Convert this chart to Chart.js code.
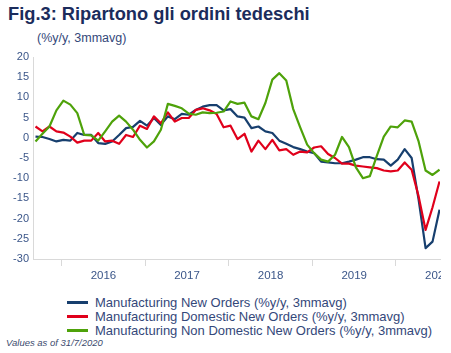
<!DOCTYPE html>
<html>
<head>
<meta charset="utf-8">
<script src="https://cdn.jsdelivr.net/npm/chart.js@4.4.1/dist/chart.umd.min.js"></script>
<style>
html,body{margin:0;padding:0;background:#fff;}
body{width:451px;height:353px;position:relative;overflow:hidden;font-family:"Liberation Sans",Arial,sans-serif;}
#title{position:absolute;left:8px;top:5.2px;font:bold 18.3px/18.3px "Liberation Sans",Arial,sans-serif;color:#1b2c5c;white-space:nowrap;}
#subtitle{position:absolute;left:37px;top:31.1px;font:12.5px/14px "Liberation Sans",Arial,sans-serif;color:#34487a;white-space:nowrap;}
#wrap{position:absolute;left:0;top:0;width:441px;height:290px;}
#legend{position:absolute;left:66.7px;top:295.7px;}
.row{display:flex;align-items:center;height:14px;}
.sw{width:21.6px;height:2.5px;margin-right:6.7px;flex:none;}
.lt{font:13px/14px "Liberation Sans",Arial,sans-serif;color:#34487a;white-space:nowrap;}
#note{position:absolute;left:6px;top:336.8px;font:italic 9.5px/12px "Liberation Sans",Arial,sans-serif;color:#3c4b6e;white-space:nowrap;}
</style>
</head>
<body>
<div id="title">Fig.3: Ripartono gli ordini tedeschi</div>
<div id="subtitle">(%y/y, 3mmavg)</div>
<div id="wrap"><canvas id="c" width="441" height="290" style="width:441px;height:290px"></canvas></div>
<div id="legend"></div>
<div id="note">Values as of 31/7/2020</div>
<script>
// Monthly observations, Sep 2015 .. Jul 2020
const months = [
 '2015-09','2015-10','2015-11','2015-12',
 '2016-01','2016-02','2016-03','2016-04','2016-05','2016-06','2016-07','2016-08','2016-09','2016-10','2016-11','2016-12',
 '2017-01','2017-02','2017-03','2017-04','2017-05','2017-06','2017-07','2017-08','2017-09','2017-10','2017-11','2017-12',
 '2018-01','2018-02','2018-03','2018-04','2018-05','2018-06','2018-07','2018-08','2018-09','2018-10','2018-11','2018-12',
 '2019-01','2019-02','2019-03','2019-04','2019-05','2019-06','2019-07','2019-08','2019-09','2019-10','2019-11','2019-12',
 '2020-01','2020-02','2020-03','2020-04','2020-05','2020-06','2020-07'
];
const newOrders = [0.3,0.2,-0.3,-0.9,-0.5,-0.7,1.2,0.7,0.7,-1.3,
 -1.5,-0.9,0.7,2.4,2.7,4.2,3.0,4.9,3.2,5.3,
 4.6,5.9,5.7,6.9,7.7,8.1,8.1,6.8,7.1,5.3,
 5.0,2.4,2.8,1.6,1.2,-0.7,-1.5,-2.3,-2.8,-3.4,
 -3.8,-5.9,-6.1,-6.3,-6.3,-5.9,-5.4,-4.8,-4.8,-5.3,
 -5.4,-6.9,-5.4,-2.8,-5.0,-15.3,-27.3,-25.7,-17.8];
const domesticOrders = [2.8,1.6,2.8,1.6,1.3,0.3,-1.2,-0.7,-0.7,1.2,
 -0.9,-0.7,-1.5,0.7,0.2,3.0,2.2,5.3,3.6,6.3,
 4.0,4.9,4.9,6.9,7.3,6.8,5.9,2.6,3.0,-0.3,
 1.0,-3.4,-0.7,-2.8,-0.5,-3.1,-2.8,-4.2,-3.4,-3.6,
 -2.4,-2.1,-4.0,-5.0,-6.4,-6.4,-6.9,-7.1,-7.3,-7.5,
 -8.1,-8.3,-8.1,-6.1,-7.9,-14.5,-22.8,-17.2,-10.8];
const nonDomesticOrders = [-0.9,1.0,2.8,6.8,9.2,8.2,6.1,0.7,0.6,-0.7,
 1.6,4.0,5.5,4.0,2.0,-0.5,-2.4,-0.9,2.0,8.4,
 7.9,7.3,6.0,5.7,6.3,6.1,6.2,6.5,9.0,8.4,
 8.7,5.3,4.6,8.6,14.4,16.0,14.2,7.1,2.6,-1.7,
 -3.8,-5.4,-5.9,-4.2,0.2,-2.3,-7.3,-10.0,-9.5,-4.5,
 0.3,2.8,2.6,4.3,4.0,-0.9,-8.1,-9.2,-7.9];
const yearLabels = ['2016','2017','2018','2019','2020'];
const seriesNames = [
 'Manufacturing New Orders (%y/y, 3mmavg)',
 'Manufacturing Domestic New Orders (%y/y, 3mmavg)',
 'Manufacturing Non Domestic New Orders (%y/y, 3mmavg)'
];
const seriesColors = ['#173f6e','#e0001b','#4ea20a'];

// year boundaries (just before each January) and mid-year label positions, in month-index units
const firstJan = months.indexOf('2016-01');
const yearTickPos = yearLabels.map((_, k) => firstJan - 0.25 + 12 * k);
const yearLabelPos = yearTickPos.map(v => v + 6);
const xMin = -0.36, xMax = months.length - 1 + 0.07;

const toPts = arr => arr.map((v, i) => ({x: i, y: v}));
const seriesData = [newOrders, domesticOrders, nonDomesticOrders];

const tickColor = '#3b5689';
const axisGray = '#d9d9d9';

new Chart(document.getElementById('c'), {
  type: 'line',
  data: {
    datasets: seriesData.map((d, k) => ({
      label: seriesNames[k],
      data: toPts(d),
      borderColor: seriesColors[k],
      backgroundColor: seriesColors[k],
      borderWidth: 2.2,
      pointRadius: 0,
      tension: 0,
      fill: false,
      order: 3 - k,
      borderJoinStyle: 'round'
    }))
  },
  options: {
    responsive: false,
    animation: false,
    layout: {padding: {top: 57, left: 0, right: 1, bottom: 0}},
    plugins: {legend: {display: false}, tooltip: {enabled: false}},
    scales: {
      x: {
        type: 'linear', position: 'bottom', min: xMin, max: xMax, bounds: 'data',
        afterBuildTicks: s => { s.ticks = yearTickPos.map(v => ({value: v})); },
        afterFit: s => { s.height = 7; s.paddingLeft = 0; s.paddingRight = 0; },
        grid: {display: true, drawOnChartArea: false, drawTicks: true, tickLength: 7, color: axisGray, lineWidth: 1},
        border: {display: true, color: axisGray, width: 1},
        ticks: {display: false}
      },
      x2: {
        type: 'linear', axis: 'x', position: 'bottom', min: xMin, max: xMax, bounds: 'data',
        afterBuildTicks: s => { s.ticks = yearLabelPos.map(v => ({value: v})); },
        afterFit: s => { s.height = 24; s.paddingLeft = 0; s.paddingRight = 0; },
        grid: {display: false, drawTicks: false},
        border: {display: false},
        ticks: {autoSkip: false, maxRotation: 0, minRotation: 0, padding: 3, color: tickColor,
          font: {family: '"Liberation Sans", Arial, sans-serif', size: 11.5},
          callback: (v, i) => yearLabels[i]}
      },
      y: {
        min: -30, max: 20,
        afterFit: s => { s.width = 33; s.paddingTop = 0; s.paddingBottom = 0; },
        grid: {display: false, drawTicks: false},
        border: {display: true, color: axisGray, width: 1},
        ticks: {stepSize: 5, padding: 4, color: tickColor,
          font: {family: '"Liberation Sans", Arial, sans-serif', size: 11}}
      }
    }
  }
});

// legend
const lg = document.getElementById('legend');
seriesNames.forEach((n, k) => {
  const r = document.createElement('div'); r.className = 'row';
  const sw = document.createElement('div'); sw.className = 'sw'; sw.style.background = seriesColors[k];
  const t = document.createElement('span'); t.className = 'lt'; t.textContent = n;
  r.appendChild(sw); r.appendChild(t); lg.appendChild(r);
});
</script>
</body>
</html>
